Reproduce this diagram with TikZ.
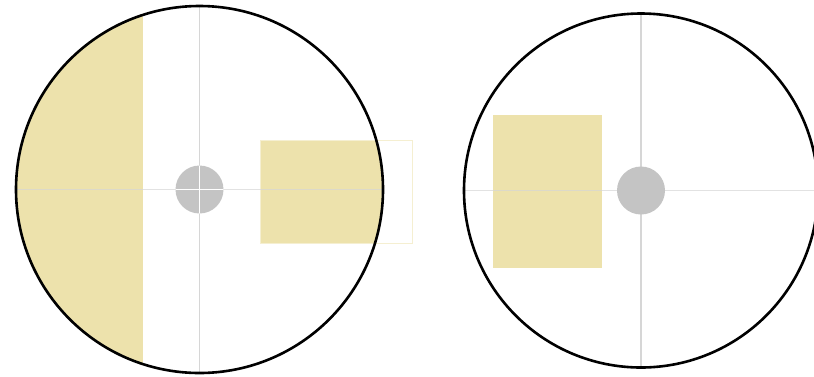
\documentclass[tikz,border=0pt]{standalone}
\usetikzlibrary{calc}
\definecolor{sand}{RGB}{237,226,172}
\definecolor{hubgrey}{RGB}{196,196,196}
\definecolor{axisgrey}{RGB}{214,214,214}
\tikzset{
  rim/.style    ={draw=black, line width=2.6pt},
  axis/.style   ={draw=axisgrey, line width=1.2pt},
  pad/.style    ={fill=sand},
  hubdot/.style ={fill=hubgrey},
  cross/.style  ={draw=white, line width=1.4pt},
}

\begin{document}
\begin{tikzpicture}[x=1pt, y=-1pt]
  \useasboundingbox (0,0) rectangle (814,376);
  \clip (0,0) rectangle (814,376);
  \coordinate (lc) at (199.5,189.5);
  \coordinate (rc) at (641,190.5);

  % left disc: pads clipped to the rim
  \begin{scope}
    \clip (lc) circle[radius=183.5];
    \fill[pad] (0,0) rectangle (143,376);
    \fill[pad] (260,140) rectangle (412,243);
  \end{scope}
  \draw[sand!55, line width=0.7pt] (260,140) rectangle (412,243);
  \draw[axis, opacity=0.7] ($(lc)+(-183.5,0)$) -- ($(lc)+(183.5,0)$);
  \draw[axis] ($(lc)+(0,-183.5)$) -- ($(lc)+(0,183.5)$);
  \fill[hubdot] (lc) circle[radius=24];
  \begin{scope}
    \clip (lc) circle[radius=24];
    \draw[cross] ($(lc)+(-25,0)$) -- ($(lc)+(25,0)$);
    \draw[cross] ($(lc)+(0,-25)$) -- ($(lc)+(0,25)$);
  \end{scope}
  \draw[rim] (lc) circle[radius=183.5];

  % right disc
  \fill[pad] (493,115) rectangle (602,268);
  \draw[axis, opacity=0.7] ($(rc)+(-177,0)$) -- ($(rc)+(177,0)$);
  \draw[axis] ($(rc)+(0,-177)$) -- ($(rc)+(0,177)$);
  \fill[hubdot] (rc) circle[radius=24];
  \draw[rim] (rc) circle[radius=177];
\end{tikzpicture}
\end{document}
